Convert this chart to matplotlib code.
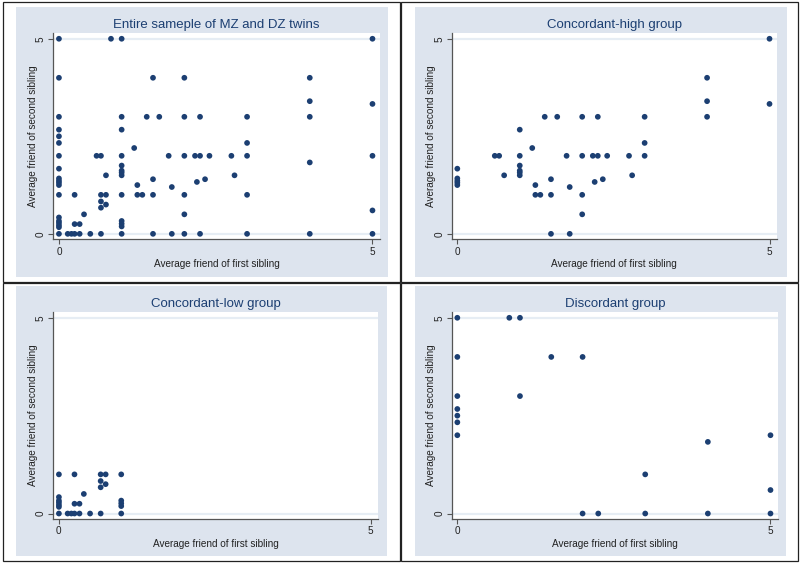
import numpy as np
import matplotlib.pyplot as plt
from matplotlib.patches import Rectangle

plt.rcParams['font.family'] = ['Liberation Sans', 'DejaVu Sans']

# concordant-high pairs
high_x = [5, 4, 4, 4, 5,
          1.4, 1.6, 2, 2.25, 3,
          1, 1.2, 3,
          0.6, 0.67, 1, 1.75, 2, 2.17, 2.25, 2.4, 2.75, 3,
          0, 0, 0, 0, 0,
          0.75, 1, 1, 1, 1,
          1.25, 1.25, 1.33, 1.5, 1.5, 1.5, 1.8, 1.8,
          2, 2, 2.2, 2.33, 2.8]
high_y = [5, 4, 3.4, 3, 3.33,
          3, 3, 3, 3, 3,
          2.67, 2.2, 2.33,
          2, 2, 2, 2, 2, 2, 2, 2, 2, 2,
          1.67, 1.42, 1.36, 1.31, 1.25,
          1.5, 1.75, 1.62, 1.57, 1.5,
          1.25, 1, 1, 1.4, 1, 0, 1.2, 0,
          1, 0.5, 1.33, 1.4, 1.5]

# concordant-low pairs
low_x = [0, 0.25, 0.67, 0.75, 1,
         0.67, 0.75, 0.67, 0.4,
         0, 0, 0, 0, 0,
         0.25, 0.33, 1, 1, 1,
         0, 0.14, 0.2, 0.25, 0.33, 0.5, 0.67, 1]
low_y = [1, 1, 1, 1, 1,
         0.83, 0.75, 0.67, 0.5,
         0.42, 0.33, 0.28, 0.22, 0.17,
         0.25, 0.25, 0.33, 0.26, 0.19,
         0, 0, 0, 0, 0, 0, 0, 0]

# discordant pairs
disc_x = [0, 0.83, 1, 0, 1.5, 2, 0, 1, 0, 0, 0, 0,
          5, 4, 3, 5, 2, 2.25, 3, 4, 5]
disc_y = [5, 5, 5, 4, 4, 4, 3, 3, 2.67, 2.5, 2.33, 2,
          2, 1.83, 1, 0.6, 0, 0, 0, 0, 0]

all_x = high_x + low_x + disc_x
all_y = high_y + low_y + disc_y

titles = ["Entire sameple of MZ and DZ twins", "Concordant-high group",
          "Concordant-low group", "Discordant group"]
xs = [all_x, high_x, low_x, disc_x]
ys = [all_y, high_y, low_y, disc_y]

W, H = 800, 565


def box(x0, y0, x1, y1):
    return [x0 / W, 1 - y1 / H, (x1 - x0) / W, (y1 - y0) / H]


frames = [(2.5, 1.5, 399.5, 282), (400.5, 1.5, 798, 282),
          (2.5, 283, 399.5, 561), (400.5, 283, 798, 561)]
regions = [(16, 6.7, 388, 277), (415, 6.7, 786.7, 276.7),
           (16, 286.3, 387, 556.3), (415, 286.3, 786, 556)]
axboxes = [(53.3, 33.3, 380, 239.3), (451.7, 33.3, 777, 239.3),
           (53.3, 312.3, 378, 519), (451.7, 312.3, 778, 519)]

bg = '#dde4ee'
navy = '#1c3f72'

fig = plt.figure(figsize=(8, 5.65), dpi=100)
fig.patch.set_facecolor('white')

for i in range(4):
    fx = box(*frames[i])
    fig.add_artist(Rectangle((fx[0], fx[1]), fx[2], fx[3], transform=fig.transFigure,
                             facecolor='white', edgecolor='#222222', linewidth=0.9, zorder=-3))
    rg = box(*regions[i])
    fig.add_artist(Rectangle((rg[0], rg[1]), rg[2], rg[3], transform=fig.transFigure,
                             facecolor=bg, edgecolor='none', zorder=-2))

    ax = fig.add_axes(box(*axboxes[i]))
    ax.set_facecolor('white')
    for y in [0, 5]:
        ax.axhline(y, color='#e6edf4', linewidth=1.6, zorder=1)
    ax.scatter(xs[i], ys[i], s=17, color=navy, edgecolors='none', zorder=3)
    ax.set_xlim(-0.09, 5.12)
    ax.set_ylim(-0.14, 5.14)
    ax.set_xticks([0, 5])
    ax.set_yticks([0, 5])
    ax.set_yticklabels(['0', '5'], rotation=90, va='center')
    ax.tick_params(length=3.8, width=0.8, color='#555555', labelsize=7.2,
                   labelcolor='#222222', pad=1.5)
    for s in ['top', 'right']:
        ax.spines[s].set_visible(False)
    for s in ['left', 'bottom']:
        ax.spines[s].set_color('#555555')
        ax.spines[s].set_linewidth(0.9)
    ax.set_xlabel("Average friend of first sibling", fontsize=7.2, color='#222222', labelpad=2)
    ax.set_ylabel("Average friend of second sibling", fontsize=7.2, color='#222222', labelpad=-1.5)
    ax.set_title(titles[i], fontsize=9.5, color=navy, pad=4)

plt.savefig("out.png", dpi=100)
